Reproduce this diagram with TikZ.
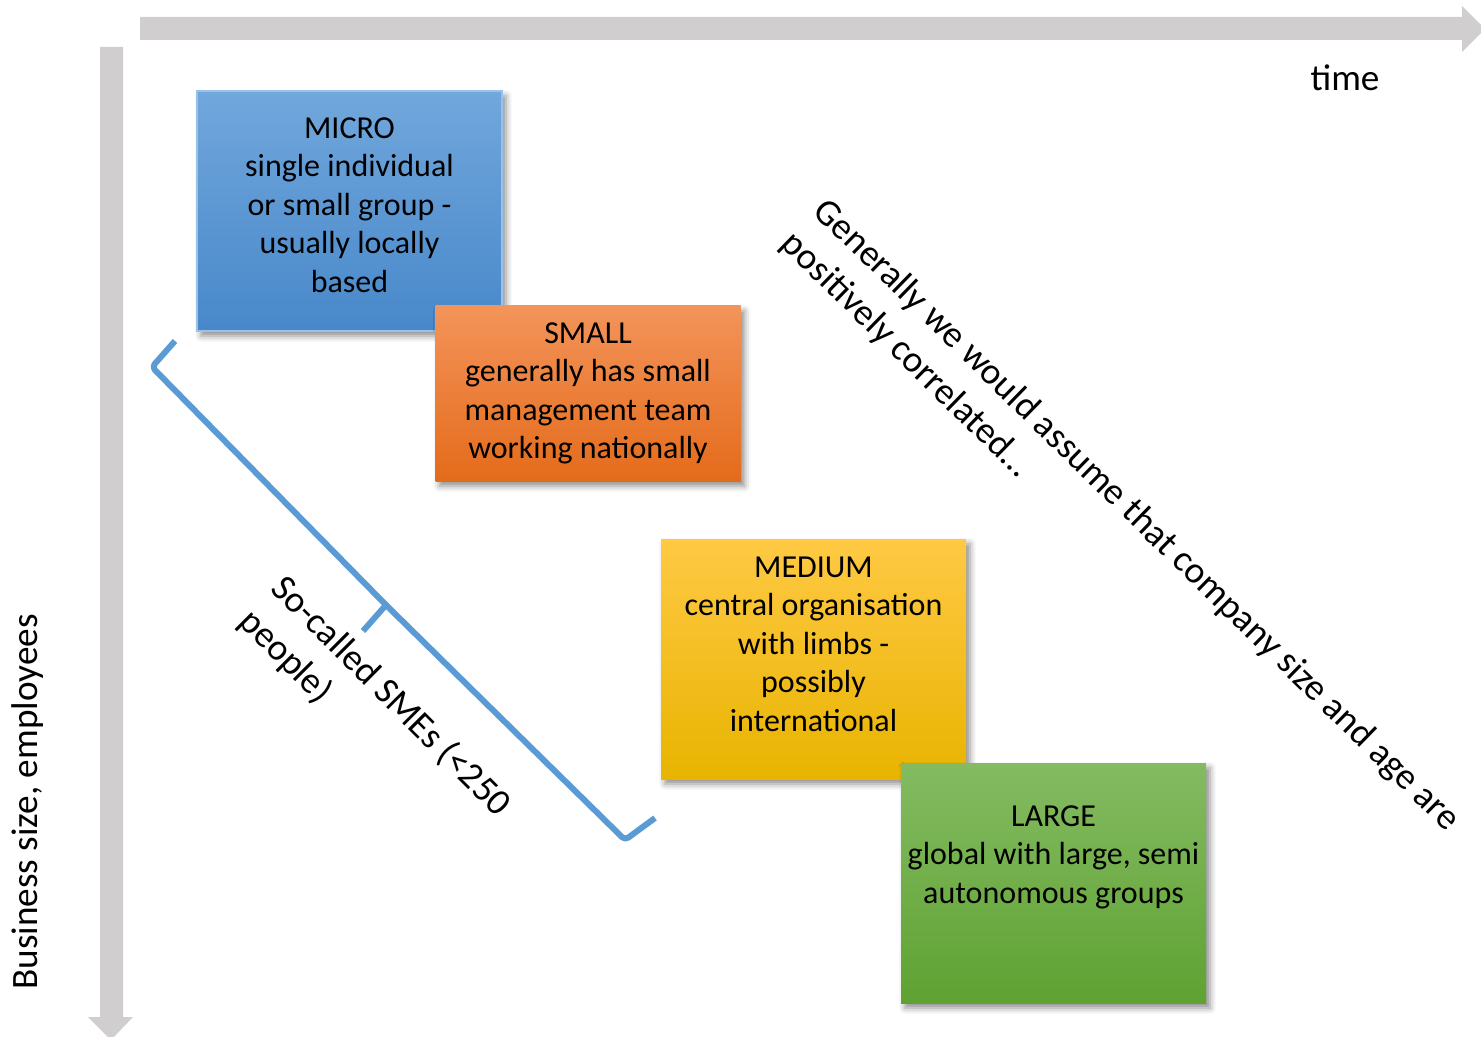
\documentclass[tikz,border=0pt]{standalone}
\usepackage{fontspec}
\setmainfont{Carlito}
\usetikzlibrary{shadows.blur}
\definecolor{axisgray}{RGB}{208,206,206}
\definecolor{bracketblue}{RGB}{91,155,213}
\definecolor{microtop}{RGB}{113,167,220}
\definecolor{microbot}{RGB}{72,136,202}
\definecolor{smalltop}{RGB}{243,148,90}
\definecolor{smallbot}{RGB}{228,107,27}
\definecolor{medtop}{RGB}{255,201,68}
\definecolor{medmid}{RGB}{255,192,0}
\definecolor{medbot}{RGB}{232,180,0}
\definecolor{largetop}{RGB}{132,187,98}
\definecolor{largebot}{RGB}{95,162,50}

\begin{document}
\begin{tikzpicture}[
    x=0.5pt, y=-0.5pt,
    sizebox/.style={rectangle, minimum width=152.5pt, minimum height=120pt, inner sep=0pt, align=center, font=\fontsize{16pt}{19.25pt}\selectfont, blur shadow={shadow xshift=2pt, shadow yshift=-2.5pt, shadow blur radius=3pt, shadow opacity=45}},
    slanted/.style={align=left, anchor=north west, inner sep=0pt, font=\fontsize{18.6pt}{23pt}\selectfont},
    label text/.style={inner sep=0pt, font=\fontsize{18.6pt}{23pt}\selectfont},
    axis/.style={fill=axisgray},
    bracket/.style={draw=bracketblue, line width=3pt, rounded corners=2pt, line join=round}
]
\clip (0,0) rectangle (1481,1037);

% axes
\fill[axis] (140,17) -- (1462,17) -- (1462,6) -- (1485,29) -- (1462,52) -- (1462,40) -- (140,40) -- cycle;
\fill[axis] (100,47) -- (123,47) -- (123,1017) -- (133,1017) -- (111,1040) -- (88,1017) -- (100,1017) -- cycle;
\node[label text] (timelbl) at (1345,78) {time};
\node[label text, rotate=90] (sizelbl) at (28,802) {Business size, employees};

% company sizes
\node[sizebox, top color=microtop, bottom color=microbot, draw=microtop!70!white, line width=0.6pt, text depth=6pt] (micro) at (349.5,211) {MICRO\\single individual\\or small group -\\usually locally\\based};
\node[sizebox, minimum height=87.5pt, top color=smalltop, bottom color=smallbot] (small) at (588,393.5) {SMALL\\generally has small\\management team\\working nationally};
\node[sizebox, top color=medtop, middle color=medmid, bottom color=medbot, text depth=15pt] (medium) at (813.5,659) {MEDIUM\\central organisation\\with limbs -\\possibly\\international};
\node[sizebox, top color=largetop, bottom color=largebot, text depth=28.5pt] (large) at (1053.5,883) {LARGE\\global with large, semi\\autonomous groups};

% SME bracket
\coordinate (brTop) at (175,341);
\coordinate (brCusp) at (386,605);
\coordinate (brTip) at (363,631);
\coordinate (brEnd) at (655,818);
\draw[bracket] (brTop) -- (152,367) -- (brCusp) -- (625,840) -- (brEnd);
\draw[bracket] (brCusp) -- (brTip);
\node[slanted, rotate=-45] (smes) at (289,571) {So-called SMEs (<250\\people)};

% trend note
\node[slanted, rotate=-44.3] (trend) at (830,194) {Generally we would assume that company size and age are\\positively correlated…};

\end{tikzpicture}
\end{document}
